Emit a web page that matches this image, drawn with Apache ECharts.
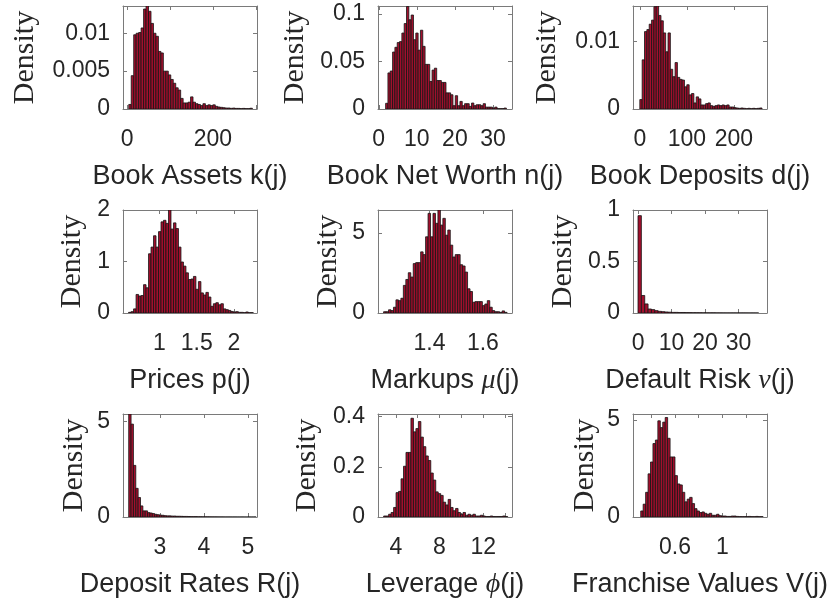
<!DOCTYPE html>
<html>
<head>
<meta charset="utf-8">
<script src="https://cdn.jsdelivr.net/npm/echarts@6/dist/echarts.min.js"></script>
<style>
  html, body { margin: 0; padding: 0; background: #fff; }
  #chart { width: 838px; height: 601px; }
</style>
</head>
<body>
<div id="chart"></div>
<script>
// Histogram densities, one array per variable (bin heights, left to right)
const bookAssets = [0.0006, 0.0044, 0.0098, 0.0100, 0.0101, 0.0107, 0.0132, 0.0136, 0.0129, 0.0113,
  0.0100, 0.0096, 0.0076, 0.0074, 0.0050, 0.0050, 0.0045, 0.0039, 0.0034, 0.0028,
  0.0025, 0.0014, 0.0008, 0.0008, 0.0009, 0.0016, 0.0009, 0.0007, 0.0006, 0.00045,
  0.0007, 0.00045, 0.00055, 0.00045, 0.00055, 0.00035, 0.00026, 0.00022, 0.00017, 0.00013,
  0.00013, 0.00009, 0.00012, 0.00008, 0.00008, 0.00005, 0.00008, 0.00005, 0.00005, 0.0001];
const netWorth = [0.006, 0.038, 0.040, 0.060, 0.065, 0.070, 0.071, 0.080, 0.090, 0.108,
  0.094, 0.099, 0.073, 0.080, 0.062, 0.083, 0.066, 0.047, 0.047, 0.029,
  0.041, 0.043, 0.030, 0.030, 0.028, 0.028, 0.017, 0.017, 0.015, 0.0035,
  0.014, 0.0035, 0.008, 0.0035, 0.0056, 0.0056, 0.0028, 0.0063, 0.0035, 0.0045,
  0.0045, 0.0035, 0.0056, 0.002, 0.002, 0.002, 0.001, 0.002, 0.0004, 0.0004,
  0.0004, 0.001];
const deposits = [0.0014, 0.0073, 0.0115, 0.0118, 0.0126, 0.0132, 0.0152, 0.0153, 0.0139, 0.0131,
  0.0113, 0.0085, 0.0113, 0.0059, 0.0048, 0.0069, 0.0047, 0.0044, 0.0043, 0.0033,
  0.0036, 0.0021, 0.0023, 0.0009, 0.0018, 0.0015, 0.0006, 0.0006, 0.0008, 0.0009,
  0.0005, 0.0004, 0.0005, 0.0006, 0.0005, 0.0006, 0.0005, 0.0006, 0.0003, 0.0003,
  0.0002, 0.00015, 0.0001, 0.00015, 0.0001, 0.00005, 0.0001, 0.00005, 0.0001, 0.00005,
  0.0001, 0.00015];
const prices = [0.013, 0.026, 0.08, 0.36, 0.33, 0.34, 0.55, 0.49, 1.15, 1.28,
  1.50, 1.28, 1.58, 1.77, 1.80, 1.74, 2.00, 1.63, 1.75, 1.64,
  1.28, 0.99, 0.91, 0.78, 0.65, 0.66, 0.71, 0.46, 0.61, 0.39,
  0.35, 0.40, 0.31, 0.13, 0.18, 0.20, 0.16, 0.18, 0.08, 0.065,
  0.05, 0.03, 0.02, 0.026, 0.013, 0.013, 0.007, 0.02, 0.007, 0.007];
const markups = [0.08, 0.08, 0.2, 0.15, 0.36, 0.82, 0.77, 0.92, 1.72, 2.09,
  2.51, 2.24, 3.08, 3.14, 3.14, 3.81, 3.64, 4.75, 6.21, 4.75,
  6.21, 5.59, 6.42, 5.48, 5.90, 4.85, 5.17, 4.23, 3.49, 3.64,
  3.64, 3.01, 2.93, 2.55, 1.51, 1.34, 0.67, 0.71, 0.71, 0.71,
  0.46, 0.56, 0.77, 0.36, 0.15, 0.08, 0.08, 0.04, 0.13, 0.04];
const defaultRisk = [0.945, 0.17, 0.088, 0.039, 0.033, 0.023, 0.016, 0.013, 0.010, 0.008,
  0.006, 0.006, 0.005, 0.005, 0.004, 0.004, 0.003, 0.003, 0.003, 0.002,
  0.002, 0.002, 0.002, 0.0015, 0.0015, 0.001, 0.001, 0.001, 0.001, 0.001,
  0.0008, 0.0008, 0.0008, 0.0005, 0.0005, 0.0005];
const depositRates = [5.39, 4.86, 2.70, 1.50, 1.02, 0.58, 0.32, 0.32, 0.23, 0.21,
  0.18, 0.14, 0.12, 0.10, 0.09, 0.07, 0.06, 0.06, 0.05, 0.05,
  0.04, 0.04, 0.035, 0.03, 0.03, 0.025, 0.02, 0.02, 0.02, 0.015,
  0.015, 0.01, 0.012, 0.01, 0.008, 0.008, 0.006, 0.005, 0.005, 0.004,
  0.003, 0.003, 0.002, 0.002, 0.002, 0.001, 0.001, 0.001, 0.001, 0.0005,
  0.0005, 0.0005, 0.0005, 0.001];
const leverage = [0.004, 0.004, 0.011, 0.018, 0.038, 0.097, 0.102, 0.152, 0.202, 0.257,
  0.257, 0.393, 0.339, 0.352, 0.380, 0.318, 0.280, 0.243, 0.225, 0.175,
  0.147, 0.100, 0.093, 0.086, 0.059, 0.048, 0.070, 0.038, 0.025, 0.034,
  0.018, 0.011, 0.018, 0.007, 0.011, 0.007, 0.011, 0.004, 0.004, 0.007,
  0.004, 0.002, 0.002, 0.004, 0.002, 0.002, 0.002, 0.002, 0.004, 0.002];
const franchise = [0.31, 0.66, 1.27, 2.22, 2.83, 3.78, 3.96, 4.95, 4.60, 4.88,
  5.12, 4.05, 3.09, 3.09, 2.13, 1.70, 1.65, 1.27, 0.78, 0.92,
  1.01, 0.69, 0.43, 0.31, 0.23, 0.26, 0.19, 0.14, 0.19, 0.09,
  0.09, 0.14, 0.07, 0.05, 0.05, 0.03, 0.03, 0.05, 0.05, 0.03,
  0.02, 0.02, 0.02, 0.02, 0.03, 0.02, 0.02, 0.03, 0.02, 0.02];

// First bin edge and bin width of each histogram
const binStart = [4, 1.8, 0, 0.585, 1.228, 0, 2.29, 2.89, 0.312];
const binWidth = [5.76, 0.61, 5, 0.0335, 0.00925, 1, 0.0537, 0.227, 0.0206];

// Axis ranges
const xMin = [-9.4, -0.2, -14.5, 0.51, 1.207, -1.5, 2.16, 2.37, 0.247];
const xMax = [302.8, 35, 270.6, 2.31, 1.709, 38.5, 5.21, 14.64, 1.375];
const yMax = [0.0136, 0.1085, 0.0153, 2, 6.42, 1, 5.39, 0.41, 5.3];

// Tick positions and the subset that carries labels
const xTicks = [[0, 100, 200, 300], [0, 10, 20, 30], [0, 100, 200], [1, 1.5, 2], [1.4, 1.6],
  [0, 10, 20, 30], [3, 4, 5], [4, 6, 8, 10, 12, 14], [0.4, 0.6, 0.8, 1, 1.2]];
const xTickLabels = [[0, 200], [0, 10, 20, 30], [0, 100, 200], [1, 1.5, 2], [1.4, 1.6],
  [0, 10, 20, 30], [3, 4, 5], [4, 8, 12], [0.6, 1]];
const yTicks = [[0, 0.005, 0.01], [0, 0.05, 0.1], [0, 0.01], [0, 1, 2], [0, 5],
  [0, 0.5, 1], [0, 5], [0, 0.2, 0.4], [0, 5]];

// Axis titles
const xTitles = ['Book Assets k(j)', 'Book Net Worth n(j)', 'Book Deposits d(j)',
  'Prices p(j)', 'Markups {g|μ}(j)', 'Default Risk {g|ν}(j)',
  'Deposit Rates R(j)', 'Leverage {g|ϕ}(j)', 'Franchise Values V(j)'];
const yTitle = 'Density';

const series = [bookAssets, netWorth, deposits, prices, markups, defaultRisk, depositRates, leverage, franchise];

const TEXT = '#262626';
const AXIS = '#7a7a7a';
const BAR = '#a20f2d';
const EDGE = '#141414';

const colLeft = [123, 378, 633];
const rowTop = [6, 210, 414];
const PW = 134, PH = 103;
const yNameGap = [83, 68, 71, 36, 35, 55, 34, 56, 33];

function renderBin(params, api) {
  const lo = api.coord([api.value(0), 0]);
  const hi = api.coord([api.value(1), api.value(2)]);
  return {
    type: 'rect',
    shape: { x: lo[0], y: hi[1], width: hi[0] - lo[0], height: lo[1] - hi[1] },
    style: { fill: BAR, stroke: EDGE, lineWidth: 0.8 }
  };
}

const grid = [], xAxis = [], yAxis = [], seriesOpt = [];
const lineStyle = { color: AXIS, width: 1 };
const ticks = vals => ({ show: true, inside: true, length: 4, customValues: vals, lineStyle: { color: AXIS, width: 1 } });
const fmt = v => String(v);

series.forEach((vals, i) => {
  const r = Math.floor(i / 3), c = i % 3;
  grid.push({ left: colLeft[c], top: rowTop[r], width: PW, height: PH, show: false, containLabel: false });

  xAxis.push({
    type: 'value', gridIndex: i, position: 'bottom', min: xMin[i], max: xMax[i],
    axisLine: { show: true, onZero: false, lineStyle },
    axisTick: ticks(xTicks[i]),
    axisLabel: { customValues: xTickLabels[i], margin: 19, fontFamily: 'Liberation Sans', fontSize: 23, color: TEXT, formatter: fmt },
    splitLine: { show: false },
    name: xTitles[i], nameLocation: 'middle', nameGap: 54,
    nameTextStyle: {
      fontFamily: 'Liberation Sans', fontSize: 27, color: TEXT,
      rich: { g: { fontFamily: 'Liberation Serif, DejaVu Serif', fontStyle: 'italic', fontSize: 28, color: TEXT } }
    }
  });
  xAxis.push({
    type: 'value', gridIndex: i, position: 'top', min: xMin[i], max: xMax[i],
    axisLine: { show: true, onZero: false, lineStyle },
    axisTick: ticks(xTicks[i]),
    axisLabel: { show: false },
    splitLine: { show: false }
  });

  yAxis.push({
    type: 'value', gridIndex: i, position: 'left', min: 0, max: yMax[i],
    axisLine: { show: true, onZero: false, lineStyle },
    axisTick: ticks(yTicks[i]),
    axisLabel: { customValues: yTicks[i], margin: 13, fontFamily: 'Liberation Sans', fontSize: 23, color: TEXT, formatter: fmt },
    splitLine: { show: false },
    name: yTitle, nameLocation: 'middle', nameGap: yNameGap[i],
    nameTextStyle: { fontFamily: 'Liberation Serif', fontSize: 30, color: TEXT }
  });
  yAxis.push({
    type: 'value', gridIndex: i, position: 'right', min: 0, max: yMax[i],
    axisLine: { show: true, onZero: false, lineStyle },
    axisTick: ticks(yTicks[i]),
    axisLabel: { show: false },
    splitLine: { show: false }
  });

  seriesOpt.push({
    type: 'custom', xAxisIndex: 2 * i, yAxisIndex: 2 * i,
    renderItem: renderBin, clip: true,
    encode: { x: [0, 1], y: 2 },
    data: vals.map((h, k) => [binStart[i] + k * binWidth[i], binStart[i] + (k + 1) * binWidth[i], h])
  });
});

const chart = echarts.init(document.getElementById('chart'), null, { renderer: 'canvas' });
chart.setOption({
  backgroundColor: '#ffffff',
  animation: false,
  grid, xAxis, yAxis,
  series: seriesOpt
});
</script>
</body>
</html>
